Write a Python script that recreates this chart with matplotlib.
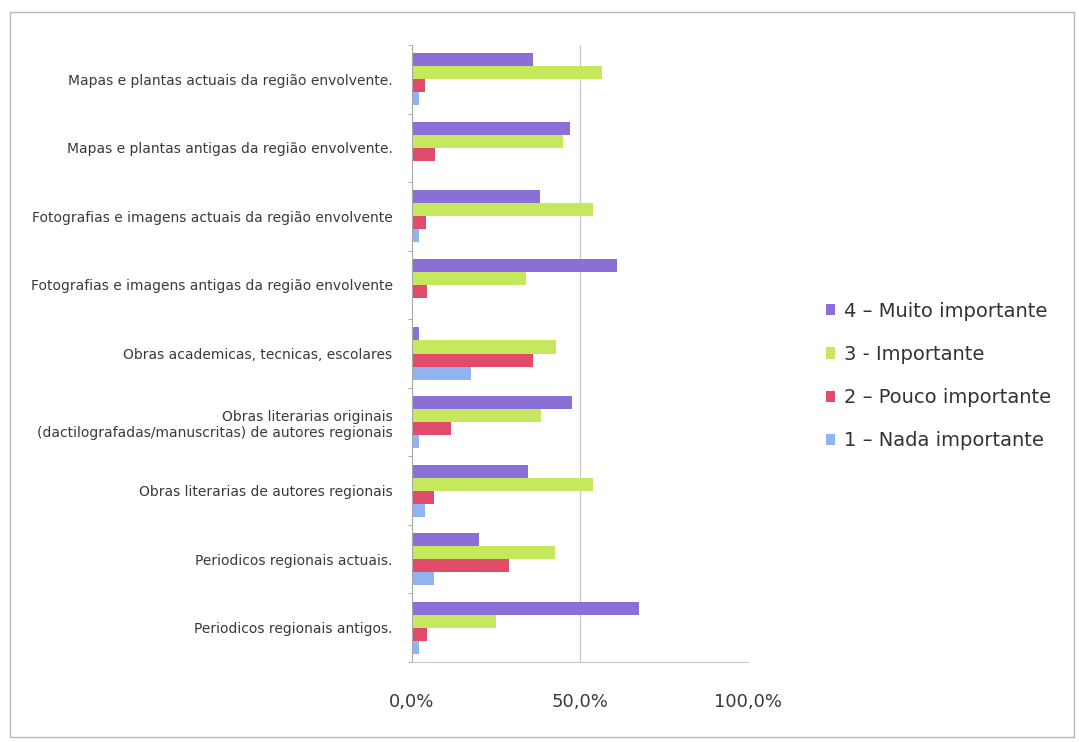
import matplotlib.pyplot as plt
import numpy as np
from matplotlib.patches import Rectangle

# categories from top to bottom, as in the picture
categories = [
    'Mapas e plantas actuais da região envolvente.',
    'Mapas e plantas antigas da região envolvente.',
    'Fotografias e imagens actuais da região envolvente',
    'Fotografias e imagens antigas da região envolvente',
    'Obras academicas, tecnicas, escolares',
    'Obras literarias originais\n(dactilografadas/manuscritas) de autores regionais',
    'Obras literarias de autores regionais',
    'Periodicos regionais actuais.',
    'Periodicos regionais antigos.',
]

muito = [36.0, 47.0, 38.0, 61.0, 2.0, 47.5, 34.5, 20.0, 67.5]
importante = [56.5, 45.0, 54.0, 34.0, 43.0, 38.5, 54.0, 42.5, 25.0]
pouco = [4.0, 6.8, 4.2, 4.5, 36.0, 11.5, 6.5, 29.0, 4.5]
nada = [2.0, 0.0, 2.0, 0.0, 17.5, 2.0, 4.0, 6.5, 2.2]

series = [
    ('4 – Muito importante', muito, '#8a6fd6'),
    ('3 - Importante', importante, '#c6e85c'),
    ('2 – Pouco importante', pouco, '#e04c6a'),
    ('1 – Nada importante', nada, '#90b4f2'),
]

xticks = [0, 50, 100]
xticklabels = ['0,0%', '50,0%', '100,0%']

fig = plt.figure(figsize=(10.79, 7.42), dpi=100)
ax = fig.add_axes([412 / 1079, 80 / 742, 336 / 1079, 617 / 742])

n = len(categories)
ypos = np.arange(n)[::-1]  # first category at top
h = 0.19
offsets = [1.5 * h, 0.5 * h, -0.5 * h, -1.5 * h]

handles = []
for (name, vals, col), off in zip(series, offsets):
    b = ax.barh(ypos + off, vals, height=h, color=col, label=name)
    handles.append(b)

ax.set_ylim(-0.5, n - 0.5)
ax.set_xlim(0, 100)
ax.axvline(xticks[1], color='#c8c8c8', lw=0.9, zorder=0)

ax.set_yticks(ypos)
ax.set_yticklabels(categories, fontsize=10, color='#3a3a3a')
ax.tick_params(axis='y', length=0, pad=14)
ax.set_yticks(np.arange(n + 1) - 0.5, minor=True)
ax.tick_params(axis='y', which='minor', length=3, color='#a0a0a0')

ax.set_xticks(xticks)
ax.set_xticklabels(xticklabels, fontsize=13, color='#3a3a3a')
ax.tick_params(axis='x', length=0, pad=22)

for s in ['top', 'right']:
    ax.spines[s].set_visible(False)
ax.spines['left'].set_color('#a8a8a8')
ax.spines['bottom'].set_color('#c8c8c8')

fig.legend(handles=handles, loc='center left', bbox_to_anchor=(808 / 1079, 1 - 376 / 742),
           frameon=False, handlelength=0.5, handleheight=0.5,
           handletextpad=0.45, labelspacing=1.24,
           prop={'family': 'DejaVu Sans', 'size': 14}, labelcolor='#333333')

fig.patches.append(Rectangle((10 / 1079, 5 / 742), 1064 / 1079, 725 / 742,
                             transform=fig.transFigure, fill=False,
                             edgecolor='#b8b8b8', lw=1))

fig.savefig('out.png', dpi=100)
